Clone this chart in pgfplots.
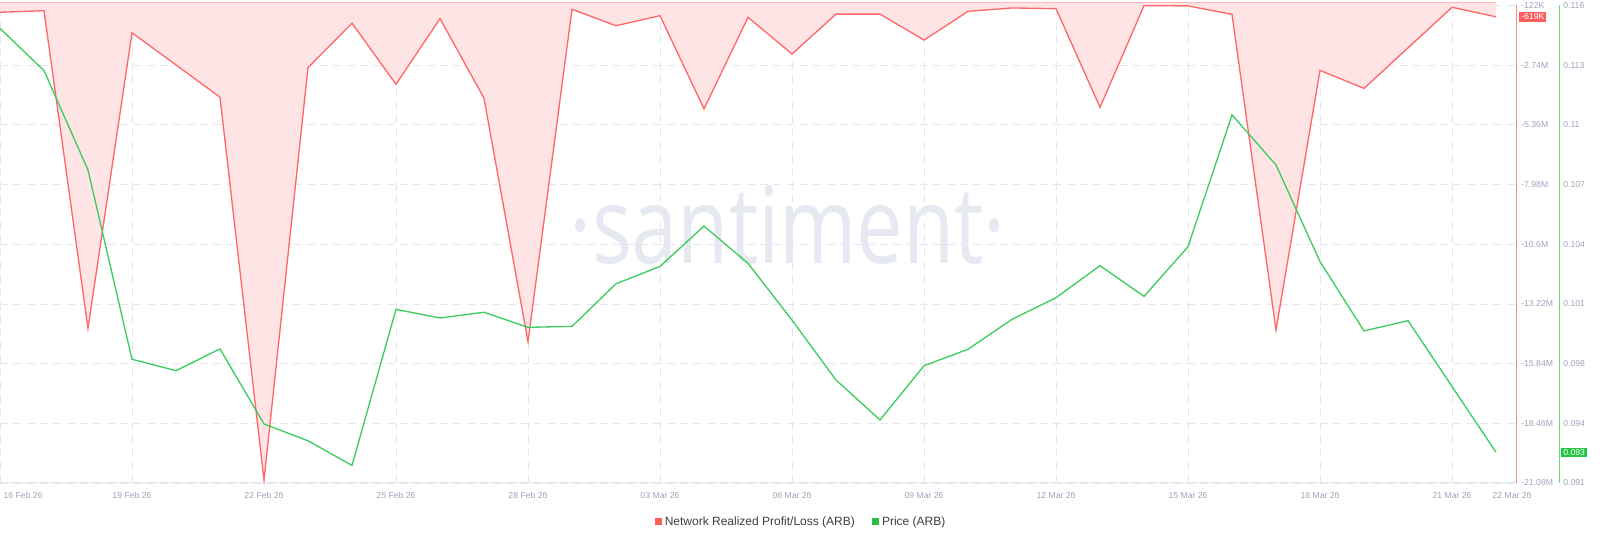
\documentclass[border=0pt]{standalone}
\usepackage{fontspec}
\setmainfont{Liberation Sans}
\newfontfamily\wmfont{Open Sans}
\usepackage{pgfplots}
\pgfplotsset{compat=1.18}
\usepgfplotslibrary{fillbetween}
\usepackage{pgfplotstable}
\definecolor{redline}{RGB}{255,104,104}
\definecolor{redfill}{RGB}{255,228,230}
\definecolor{redzero}{RGB}{255,185,190}
\definecolor{redaxis}{RGB}{255,140,140}
\definecolor{greenline}{RGB}{62,204,94}
\definecolor{greenaxis}{RGB}{100,220,120}
\definecolor{gridc}{RGB}{229,231,240}
\definecolor{labelc}{RGB}{158,163,186}
\definecolor{legc}{RGB}{60,60,60}
\definecolor{wmc}{RGB}{230,232,242}
\definecolor{badgered}{RGB}{255,92,92}
\definecolor{badgegreen}{RGB}{38,196,70}

\pgfplotstableread{
d r g
0 -0.42 0.1148
1 -0.35 0.11259
2 -14.29 0.10739
3 -1.32 0.09748
4 -2.73 0.09688
5 -4.15 0.09802
6 -20.95 0.09409
7 -2.85 0.09321
8 -0.90 0.09192
9 -3.58 0.10009
10 -0.70 0.09964
11 -4.19 0.09994
12 -14.88 0.09915
13 -0.29 0.09920
14 -1.01 0.10143
15 -0.57 0.10234
16 -4.66 0.10445
17 -0.64 0.10250
18 -2.25 0.09953
19 -0.50 0.09639
20 -0.50 0.09430
21 -1.64 0.09714
22 -0.38 0.09800
23 -0.23 0.09957
24 -0.26 0.10070
25 -4.59 0.10238
26 -0.13 0.10077
27 -0.14 0.10337
28 -0.51 0.11027
29 -14.36 0.10765
30 -2.97 0.10259
31 -3.76 0.09896
32 -1.98 0.09950
33 -0.20 0.09605
34 -0.619 0.09261
}\data

\begin{document}
\begin{tikzpicture}
\node[font=\wmfont\fontsize{80pt}{82pt}\selectfont, text=wmc, anchor=base, xscale=0.78, inner sep=0pt] at (591pt,208.5pt) {·santiment·};

\begin{axis}[
  at={(0pt,44.25pt)}, anchor=south west,
  scale only axis, width=1137pt, height=358.125pt,
  xmin=0, xmax=34.4545, ymin=-21.08, ymax=-0.122,
  clip=false,
  axis x line*=bottom, axis y line*=right,
  axis line style={-},
  x axis line style={draw=gridc, line width=0.75pt},
  y axis line style={draw=redaxis, line width=0.75pt},
  xtick={0,3,...,33},
  xticklabels={,19 Feb 26,22 Feb 26,25 Feb 26,28 Feb 26,03 Mar 26,06 Mar 26,09 Mar 26,12 Mar 26,15 Mar 26,18 Mar 26,21 Mar 26},
  ytick={-21.08,-18.46,-15.84,-13.22,-10.6,-7.98,-5.36,-2.74,-0.122},
  yticklabels={-21.08M,-18.46M,-15.84M,-13.22M,-10.6M,-7.98M,-5.36M,-2.74M,-122K},
  scaled y ticks=false,
  major tick length=0pt,
  grid=major,
  major grid style={draw=gridc, dash pattern=on 6pt off 4pt, line width=0.6pt},
  tick label style={font=\fontsize{6.5pt}{7pt}\selectfont, text=labelc},
  yticklabel style={anchor=west, inner sep=0pt, xshift=3.75pt},
  xticklabel style={anchor=base, inner sep=0pt, yshift=-11.6pt},
  legend style={at={(0.5287,-0.081)}, anchor=center, draw=none, fill=none,
    legend columns=2, font=\fontsize{9pt}{10pt}\selectfont, text=legc,
    /tikz/every even column/.append style={column sep=11pt}, inner sep=0pt},
  legend image code/.code={\fill[#1, draw=none] (0pt,-2.7pt) rectangle (5.4pt,2.7pt);},
]
\addplot[draw=redzero, line width=0.75pt, name path=zero, forget plot] coordinates {(0,0) (34,0)};
\addplot[draw=none, name path=red, forget plot] table[x=d,y=r]{\data};
\addplot[fill=redfill, draw=none, forget plot] fill between[of=zero and red];
\addplot[draw=redline, line width=1pt, forget plot] table[x=d,y=r]{\data};
\addlegendimage{fill=badgered}
\addlegendentry{Network Realized Profit/Loss (ARB)}
\addlegendimage{fill=badgegreen}
\addlegendentry{Price (ARB)}
\node[anchor=base west, inner sep=0pt, font=\fontsize{6.5pt}{7pt}\selectfont, text=labelc, xshift=2.5pt, yshift=-11.6pt] at (axis cs:0,-21.08) {16 Feb 26};
\node[anchor=base, inner sep=0pt, font=\fontsize{6.5pt}{7pt}\selectfont, text=labelc, yshift=-11.6pt] at (axis cs:34.364,-21.08) {22 Mar 26};
\node[anchor=west, fill=badgered, text=white, inner xsep=1.5pt, inner ysep=1.4pt, font=\fontsize{6.5pt}{7pt}\selectfont, xshift=2.25pt] at (axis cs:34.4545,-0.619) {-619K};
\end{axis}

\begin{axis}[
  at={(0pt,44.25pt)}, anchor=south west,
  scale only axis, width=1169.25pt, height=358.125pt,
  xmin=0, xmax=35.432, ymin=0.091, ymax=0.116,
  clip=false,
  axis x line=none, axis y line*=right,
  axis line style={-, draw=greenaxis, line width=0.75pt},
  ytick={0.091,0.094125,0.09725,0.100375,0.1035,0.106625,0.10975,0.112875,0.116},
  yticklabels={0.091,0.094,0.098,0.101,0.104,0.107,0.11,0.113,0.116},
  scaled y ticks=false,
  major tick length=0pt,
  tick label style={font=\fontsize{6.5pt}{7pt}\selectfont, text=labelc},
  yticklabel style={anchor=west, inner sep=0pt, xshift=3pt},
]
\addplot[draw=greenline, line width=1pt] table[x=d,y=g]{\data};
\node[anchor=west, fill=badgegreen, text=white, inner xsep=1.5pt, inner ysep=1.4pt, font=\fontsize{6.5pt}{7pt}\selectfont, xshift=1.5pt] at (axis cs:35.432,0.0926) {0.093};
\end{axis}
\pgfresetboundingbox
\path[use as bounding box] (0pt,0pt) rectangle (1200pt,406.5pt);
\end{tikzpicture}
\end{document}
